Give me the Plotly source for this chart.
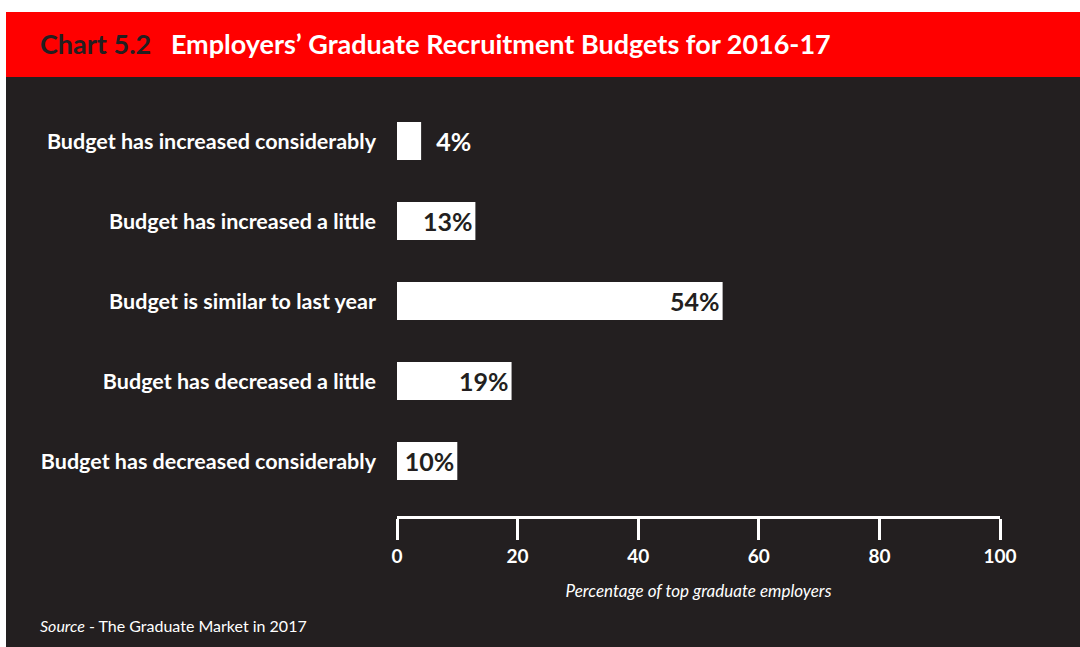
import plotly.graph_objects as go

# Survey responses (share of top graduate employers, %)
categories = [
    "Budget has increased considerably",
    "Budget has increased a little",
    "Budget is similar to last year",
    "Budget has decreased a little",
    "Budget has decreased considerably",
]
values = [4, 13, 54, 19, 10]
x_ticks = [0, 20, 40, 60, 80, 100]

RED = "#ff0000"
DARK = "#231f20"
WHITE = "#ffffff"
FONT = "Lato"

# The smallest bar is too narrow for its label, so that one sits outside
positions = ["outside" if v < 8 else "inside" for v in values]
labels = [("\u00a0\u00a0" if p == "outside" else "") + f"{v}%"
          for v, p in zip(values, positions)]

fig = go.Figure()
fig.add_trace(go.Bar(
    x=values,
    y=categories,
    orientation="h",
    marker=dict(color=WHITE, line=dict(width=0)),
    text=labels,
    textposition=positions,
    insidetextanchor="end",
    insidetextfont=dict(family=FONT, size=25, color=DARK, weight="bold"),
    outsidetextfont=dict(family=FONT, size=25, color=WHITE, weight="bold"),
    constraintext="none",
    cliponaxis=False,
    hoverinfo="skip",
))

W, H = 1080, 647
L, R, T, B = 397, 80, 101, 131
pw, ph = W - L - R, H - T - B


def px_x(x):
    return (x - L) / pw


def px_y(y):
    return (H - B - y) / ph


shapes = [
    # dark panel
    dict(type="rect", xref="paper", yref="paper", layer="below",
         x0=px_x(6), x1=px_x(1080), y0=px_y(647), y1=px_y(77),
         fillcolor=DARK, line=dict(width=0)),
    # red title band
    dict(type="rect", xref="paper", yref="paper", layer="below",
         x0=px_x(6), x1=px_x(1080), y0=px_y(77), y1=px_y(12),
         fillcolor=RED, line=dict(width=0)),
]

annotations = [
    dict(xref="paper", yref="paper", x=px_x(38), y=px_y(44),
         xanchor="left", yanchor="middle", showarrow=False,
         text=f"<span style='color:{DARK}'>Chart 5.2</span>   Employers’ Graduate Recruitment Budgets for 2016-17",
         font=dict(family=FONT, size=27, color=WHITE, weight="bold")),
    dict(xref="paper", yref="paper", x=px_x(38), y=px_y(625),
         xanchor="left", yanchor="middle", showarrow=False,
         text="<i>Source</i> - The Graduate Market in 2017",
         font=dict(family=FONT, size=16, color=WHITE)),
]

fig.update_layout(
    width=W, height=H,
    margin=dict(l=L, r=R, t=T, b=B, pad=0),
    paper_bgcolor=WHITE,
    plot_bgcolor="rgba(0,0,0,0)",
    showlegend=False,
    bargap=0.525,
    shapes=shapes,
    annotations=annotations,
    xaxis=dict(
        range=[0, 100],
        tickvals=x_ticks,
        ticktext=[str(t) for t in x_ticks],
        showgrid=False, zeroline=False,
        showline=True, linecolor=WHITE, linewidth=3,
        ticks="outside", ticklen=21, tickwidth=3, tickcolor=WHITE,
        tickfont=dict(family=FONT, size=19, color=WHITE, weight="bold"),
        title=dict(text="<i>Percentage of top graduate employers</i>",
                   font=dict(family=FONT, size=17, color=WHITE), standoff=20),
        fixedrange=True,
    ),
    yaxis=dict(
        type="category",
        categoryorder="array", categoryarray=categories,
        range=[4.6875, -0.5],
        showgrid=False, zeroline=False, showline=False,
        ticks="", ticklabelstandoff=20,
        tickfont=dict(family=FONT, size=21.5, color=WHITE, weight="bold"),
        fixedrange=True,
    ),
)

fig.write_html("out.html")
